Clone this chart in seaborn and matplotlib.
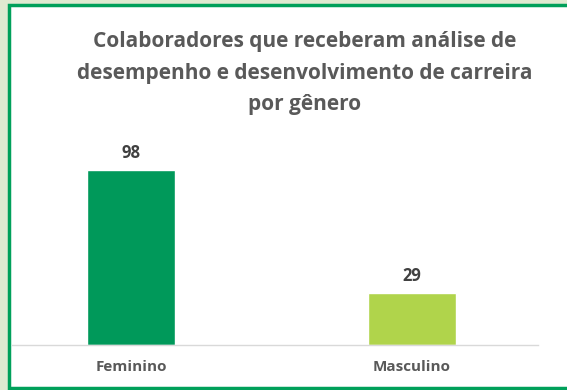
import matplotlib.pyplot as plt
import matplotlib.patches as mpatches
import pandas as pd
import seaborn as sns

generos = ["Feminino", "Masculino"]
valores = [98, 29]
cores = ["#00995a", "#b0d44b"]
titulo = "Colaboradores que receberam análise de\ndesempenho e desenvolvimento de carreira\npor gênero"

df = pd.DataFrame({"genero": generos, "valor": valores})

sns.set_style("white")
plt.rcParams["font.family"] = ["Open Sans", "DejaVu Sans"]

W, H = 567, 390
fig = plt.figure(figsize=(W / 100, H / 100), dpi=100)
fig.patch.set_facecolor("#dfead1")

# moldura branca com borda verde
frame = mpatches.Rectangle((8.5 / W, 2.5 / H), 1.0, (383 / H), transform=fig.transFigure,
                           facecolor="white", edgecolor="#00a05a", linewidth=2.5, zorder=-5)
fig.patches.append(frame)

ax = fig.add_axes([12 / W, (H - 345) / H, (538 - 12) / W, (345 - 120) / H])
ax.set_facecolor("none")
ax.set_zorder(2)

sns.barplot(data=df, x="genero", y="valor", hue="genero", palette=cores,
            width=0.313, legend=False, ax=ax, saturation=1)

ax.set_xlim(-0.4235, 1.448)
ax.set_ylim(0, 126)
ax.set_yticks([])
ax.set_xlabel("")
ax.set_ylabel("")
for s in ["top", "right", "left"]:
    ax.spines[s].set_visible(False)
ax.spines["bottom"].set_color("#d9d9d9")
ax.spines["bottom"].set_linewidth(1)
ax.tick_params(axis="x", length=0, pad=11)
for lbl in ax.get_xticklabels():
    lbl.set_fontweight("bold")
    lbl.set_fontsize(11)
    lbl.set_color("#595959")

for i, v in enumerate(valores):
    ax.annotate(str(v), (i, v), xytext=(0, 6), textcoords="offset points",
                ha="center", va="bottom", fontsize=12, fontweight="bold", color="#404040")

fig.text(305 / W, (H - 73) / H, titulo, ha="center", va="center", fontsize=15,
         fontweight="bold", color="#595959", linespacing=1.65)

fig.savefig("out.png", dpi=100, facecolor=fig.get_facecolor())
